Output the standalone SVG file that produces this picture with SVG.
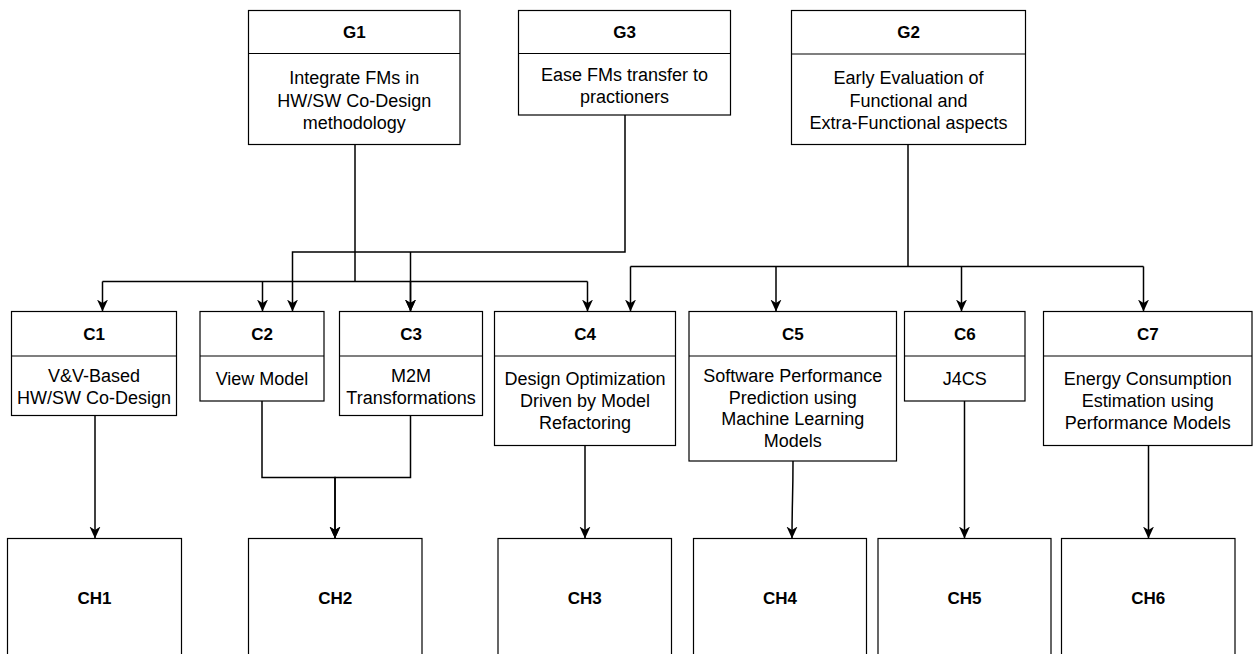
<svg xmlns="http://www.w3.org/2000/svg" width="1253" height="654" viewBox="0 0 1253 654">
<style>
.box{fill:#fff;stroke:#000;stroke-width:1.2}
.div{stroke:#000;stroke-width:1.2;fill:none}
.hd{font-family:"Liberation Sans",Arial,sans-serif;font-weight:bold;font-size:17px;text-anchor:middle;fill:#000}
.tx{font-family:"Liberation Sans",Arial,sans-serif;font-size:18px;text-anchor:middle;fill:#000}
.cn{fill:none;stroke:#000;stroke-width:1.5}
.ca{fill:none;stroke:#000;stroke-width:1.5;marker-end:url(#arr)}
</style>
<defs>
<marker id="arr" viewBox="0 0 12 12" refX="12" refY="6" markerWidth="12" markerHeight="12" markerUnits="userSpaceOnUse" orient="auto">
<path d="M0,0.5 L12,6 L0,11.5 L3.5,6 Z" fill="#000" stroke="none"/>
</marker>
</defs>
<rect width="1253" height="654" fill="#fff"/>
<g id="connectors">
<!-- G1 tree -->
<path class="cn" d="M355,144.5 V281.5"/>
<path class="cn" d="M102.5,281.5 H587.5"/>
<path class="ca" d="M102.5,281.5 V311.5"/>
<path class="ca" d="M262.5,281.5 V311.5"/>
<path class="ca" d="M410.5,281.5 V311.5"/>
<path class="ca" d="M587.5,281.5 V311.5"/>
<!-- G3 tree -->
<path class="ca" d="M625,115 V252 H292.5 V311.5"/>
<path class="ca" d="M410.5,252 V311.5"/>
<!-- G2 tree -->
<path class="cn" d="M908,144.5 V266.5"/>
<path class="cn" d="M630.5,266.5 H1143.5"/>
<path class="ca" d="M630.5,266.5 V311.5"/>
<path class="ca" d="M776,266.5 V311.5"/>
<path class="ca" d="M961.5,266.5 V311.5"/>
<path class="ca" d="M1143.5,266.5 V311.5"/>
<!-- C to CH -->
<path class="ca" d="M95,415.5 V538.5"/>
<path class="ca" d="M262,401 V477.5 H335 V538.5"/>
<path class="ca" d="M410.5,415.5 V477.5 H335 V538.5"/>
<path class="ca" d="M585,445.5 V538.5"/>
<path class="ca" d="M793,461 C793,500 792,500 792,538.5"/>
<path class="ca" d="M964.5,401 V538.5"/>
<path class="ca" d="M1148.5,445.5 V538.5"/>
</g>
<g id="G1">
<rect class="box" x="248.5" y="10.5" width="211.5" height="134"/>
<path class="div" d="M248.5,53.5 H460"/>
<text class="hd" x="354.25" y="38">G1</text>
<text class="tx" x="354.25" y="84">Integrate FMs in</text>
<text class="tx" x="354.25" y="106.5">HW/SW Co-Design</text>
<text class="tx" x="354.25" y="129">methodology</text>
</g>
<g id="G3">
<rect class="box" x="518.5" y="10.5" width="212" height="104.5"/>
<path class="div" d="M518.5,53.5 H730.5"/>
<text class="hd" x="624.5" y="38">G3</text>
<text class="tx" x="624.5" y="80.5">Ease FMs transfer to</text>
<text class="tx" x="624.5" y="103">practioners</text>
</g>
<g id="G2">
<rect class="box" x="791.5" y="10.5" width="234" height="134"/>
<path class="div" d="M791.5,54 H1025.5"/>
<text class="hd" x="908.5" y="38">G2</text>
<text class="tx" x="908.5" y="84">Early Evaluation of</text>
<text class="tx" x="908.5" y="106.5">Functional and</text>
<text class="tx" x="908.5" y="129">Extra-Functional aspects</text>
</g>
<g id="C1">
<rect class="box" x="11.5" y="311.5" width="165" height="104"/>
<path class="div" d="M11.5,356 H176.5"/>
<text class="hd" x="94" y="340">C1</text>
<text class="tx" x="94" y="382">V&amp;V-Based</text>
<text class="tx" x="94" y="404">HW/SW Co-Design</text>
</g>
<g id="C2">
<rect class="box" x="200" y="311.5" width="124" height="89.5"/>
<path class="div" d="M200,356 H324"/>
<text class="hd" x="262" y="340">C2</text>
<text class="tx" x="262" y="385">View Model</text>
</g>
<g id="C3">
<rect class="box" x="339.5" y="311.5" width="143" height="104"/>
<path class="div" d="M339.5,356 H482.5"/>
<text class="hd" x="411" y="340">C3</text>
<text class="tx" x="411" y="382">M2M</text>
<text class="tx" x="411" y="404">Transformations</text>
</g>
<g id="C4">
<rect class="box" x="494.5" y="311.5" width="181" height="134"/>
<path class="div" d="M494.5,356 H675.5"/>
<text class="hd" x="585" y="340">C4</text>
<text class="tx" x="585" y="385">Design Optimization</text>
<text class="tx" x="585" y="407">Driven by Model</text>
<text class="tx" x="585" y="429">Refactoring</text>
</g>
<g id="C5">
<rect class="box" x="689" y="311.5" width="207.5" height="149.5"/>
<path class="div" d="M689,356 H896.5"/>
<text class="hd" x="792.75" y="340">C5</text>
<text class="tx" x="792.75" y="382">Software Performance</text>
<text class="tx" x="792.75" y="403.5">Prediction using</text>
<text class="tx" x="792.75" y="425">Machine Learning</text>
<text class="tx" x="792.75" y="446.5">Models</text>
</g>
<g id="C6">
<rect class="box" x="904.5" y="311.5" width="120.5" height="89.5"/>
<path class="div" d="M904.5,356 H1025"/>
<text class="hd" x="964.75" y="340">C6</text>
<text class="tx" x="964.75" y="385">J4CS</text>
</g>
<g id="C7">
<rect class="box" x="1043.5" y="311.5" width="208.5" height="134"/>
<path class="div" d="M1043.5,356 H1252"/>
<text class="hd" x="1147.75" y="340">C7</text>
<text class="tx" x="1147.75" y="385">Energy Consumption</text>
<text class="tx" x="1147.75" y="407">Estimation using</text>
<text class="tx" x="1147.75" y="429">Performance Models</text>
</g>
<g id="CH1">
<rect class="box" x="7.5" y="538.5" width="174" height="130"/>
<text class="hd" x="94.5" y="603.5">CH1</text>
</g>
<g id="CH2">
<rect class="box" x="248.5" y="538.5" width="173.5" height="130"/>
<text class="hd" x="335.25" y="603.5">CH2</text>
</g>
<g id="CH3">
<rect class="box" x="498" y="538.5" width="173.5" height="130"/>
<text class="hd" x="584.75" y="603.5">CH3</text>
</g>
<g id="CH4">
<rect class="box" x="693.5" y="538.5" width="173" height="130"/>
<text class="hd" x="780" y="603.5">CH4</text>
</g>
<g id="CH5">
<rect class="box" x="878" y="538.5" width="173" height="130"/>
<text class="hd" x="964.5" y="603.5">CH5</text>
</g>
<g id="CH6">
<rect class="box" x="1061.5" y="538.5" width="173.5" height="130"/>
<text class="hd" x="1148.25" y="603.5">CH6</text>
</g>
</svg>
